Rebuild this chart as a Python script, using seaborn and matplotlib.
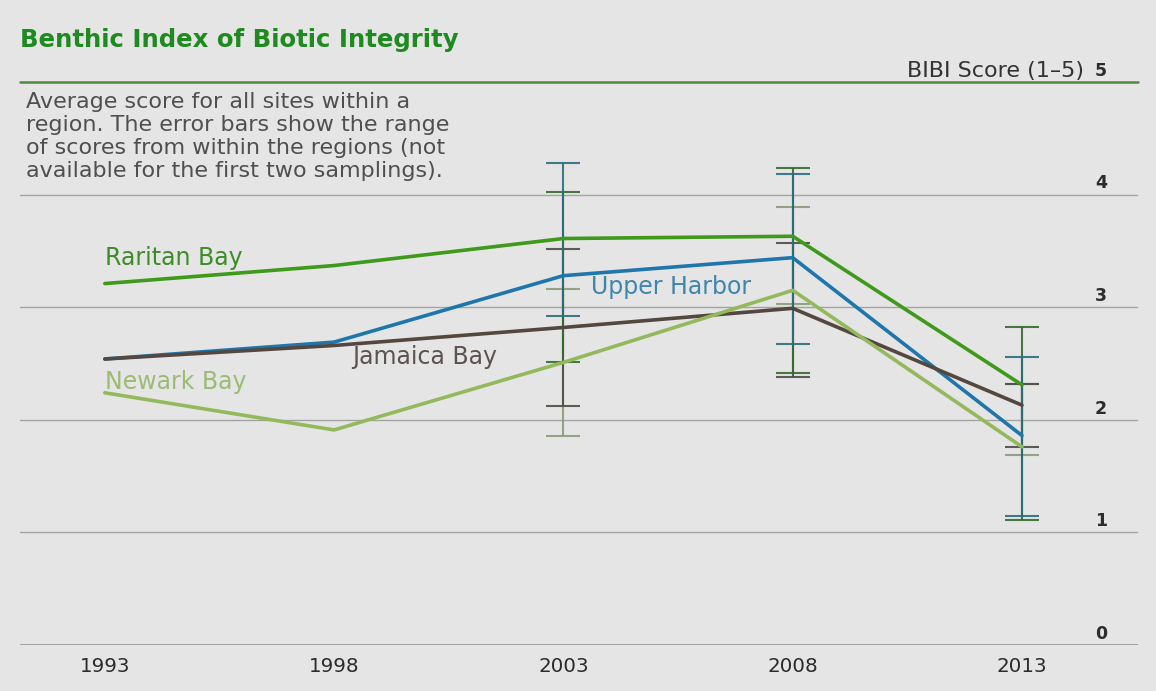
import numpy as np
import pandas as pd
import matplotlib
matplotlib.use("Agg")
import matplotlib.pyplot as plt
import seaborn as sns

# Sampling years and mean BIBI score per region
years = [1993, 1998, 2003, 2008, 2013]
raritan_bay = [3.21, 3.37, 3.61, 3.63, 2.31]
upper_harbor = [2.54, 2.69, 3.28, 3.44, 1.86]
jamaica_bay = [2.54, 2.66, 2.82, 2.99, 2.13]
newark_bay = [2.24, 1.91, 2.51, 3.15, 1.76]

# Range of site scores (only for 2003, 2008, 2013)
range_years = [2003, 2008, 2013]
raritan_lo = [2.51, 2.42, 1.11]
raritan_hi = [4.02, 4.24, 2.82]
upper_lo = [2.92, 2.67, 1.15]
upper_hi = [4.28, 4.18, 2.56]
jamaica_lo = [2.12, 2.38, 1.76]
jamaica_hi = [3.52, 3.57, 2.32]
newark_lo = [1.86, 3.03, 1.69]
newark_hi = [3.16, 3.89, 2.32]

regions = ["Raritan Bay", "Upper Harbor", "Jamaica Bay", "Newark Bay"]
y_ticks = [0, 1, 2, 3, 4, 5]

line_colors = {"Raritan Bay": "#3f9a1c", "Upper Harbor": "#1f76ab",
               "Jamaica Bay": "#54473f", "Newark Bay": "#93b95c"}
label_colors = {"Raritan Bay": "#3d8c28", "Upper Harbor": "#3f86ad",
                "Jamaica Bay": "#5c5350", "Newark Bay": "#9cbb74"}
bar_colors = {"Raritan Bay": "#336b2c", "Upper Harbor": "#2b6d7d",
              "Jamaica Bay": "#4d4c46", "Newark Bay": "#8c9c7a"}

df = pd.DataFrame({
    "year": years * 4,
    "score": raritan_bay + upper_harbor + jamaica_bay + newark_bay,
    "region": sum([[r] * len(years) for r in regions], []),
})

bg = "#e5e5e5"
sns.set_theme(style="white")
plt.rcParams["font.family"] = ["DejaVu Sans"]

W, H = 1156, 691
fig = plt.figure(figsize=(W / 100, H / 100), dpi=100, facecolor=bg)
ax = fig.add_axes([20 / W, 46 / H, (1138 - 20) / W, (645 - 82) / H])
ax.set_facecolor(bg)

ax.set_xlim(1991.15, 2015.53)
ax.set_ylim(0, 5)

# horizontal reference lines
for v in y_ticks[1:5]:
    ax.axhline(v, color="#a3a3a3", lw=1.0, zorder=0)
ax.axhline(5, color="#4f8a3c", lw=1.8, zorder=0, clip_on=False)
ax.axhline(0, color="#a0a0a0", lw=1.4, zorder=0)

# range bars
ranges = {
    "Raritan Bay": (raritan_lo, raritan_hi, raritan_bay),
    "Upper Harbor": (upper_lo, upper_hi, upper_harbor),
    "Jamaica Bay": (jamaica_lo, jamaica_hi, jamaica_bay),
    "Newark Bay": (newark_lo, newark_hi, newark_bay),
}
for r in ["Newark Bay", "Jamaica Bay", "Raritan Bay", "Upper Harbor"]:
    lo, hi, mean = ranges[r]
    mid = np.array([mean[years.index(y)] for y in range_years])
    lo = np.array(lo)
    hi = np.array(hi)
    ax.errorbar(range_years, mid, yerr=[mid - lo, hi - mid], fmt="none",
                ecolor=bar_colors[r], elinewidth=1.5, capsize=12,
                capthick=1.5, alpha=0.9, zorder=1)

sns.lineplot(data=df, x="year", y="score", hue="region", hue_order=regions,
             palette=line_colors, linewidth=2.6, legend=False, ax=ax,
             zorder=3)

# series labels
label_pos = {"Raritan Bay": (1993.0, 3.44), "Upper Harbor": (2003.6, 3.18),
             "Jamaica Bay": (1998.4, 2.56), "Newark Bay": (1993.0, 2.34)}
for r, (xx, yy) in label_pos.items():
    ax.text(xx, yy, r, color=label_colors[r], fontsize=17, va="center",
            ha="left", zorder=4)

for s in ax.spines.values():
    s.set_visible(False)

ax.set_xticks(years)
ax.set_xticklabels([str(y) for y in years], fontsize=14.3, color="#2c2c2c")
ax.tick_params(axis="x", direction="in", length=5, width=1, color="#a0a0a0",
               pad=9)
ax.set_yticks([])
ax.set_xlabel("")
ax.set_ylabel("")

# right-hand score labels sitting above each line
for v in y_ticks:
    ax.text(2014.72, v + 0.1, str(v), fontsize=12.5, color="#2c2c2c",
            fontweight="bold", ha="center", va="center")
ax.text(2014.35, 5.1, "BIBI Score (1–5)", fontsize=16, color="#333333",
        ha="right", va="center")

fig.text(20 / W, 1 - 40 / H, "Benthic Index of Biotic Integrity",
         fontsize=17.6, fontweight="bold", color="#1f8a1f", va="center",
         ha="left")
desc_lines = ["Average score for all sites within a",
              "region. The error bars show the range",
              "of scores from within the regions (not",
              "available for the first two samplings)."]
for i, line in enumerate(desc_lines):
    fig.text(26 / W, 1 - (102 + 23 * i) / H, line, fontsize=16,
             color="#4f4f4f", va="center", ha="left")

fig.savefig("out.png", dpi=100, facecolor=bg)
